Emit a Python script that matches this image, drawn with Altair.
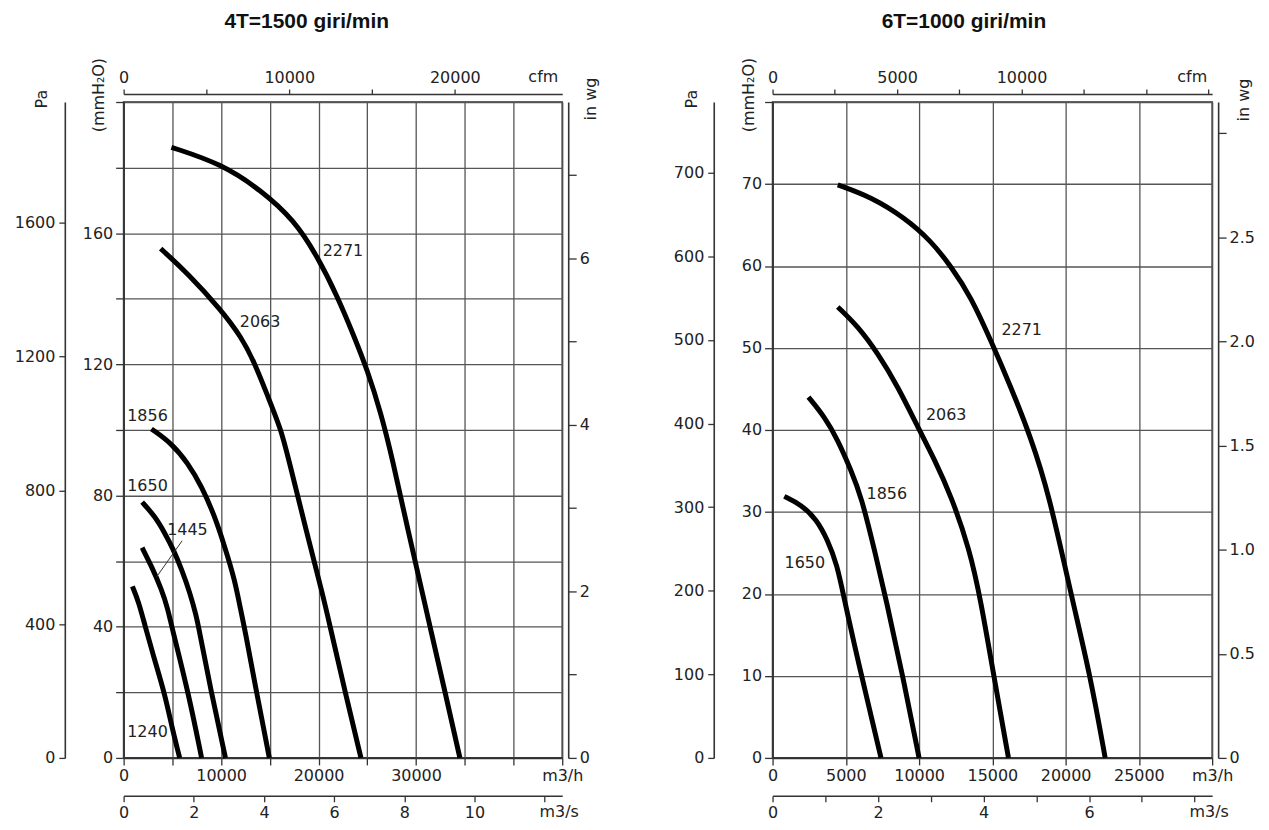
import altair as alt
import pandas as pd

# ---------------- data (flow m3/h, static pressure mmH2O) ----------------
# Left panel: 4T = 1500 giri/min
L_CURVES = ["2271", "2063", "1856", "1650", "1445", "1240"]
L_2271_Q = [4900, 10000, 14100, 17500, 19900, 21950, 23650, 25000, 26400, 27600, 29150, 30800, 31450, 33000, 34500]
L_2271_P = [186.2, 181.2, 173.1, 164.0, 152.8, 140.6, 128.5, 118.3, 105.2, 90.9, 69.7, 48.4, 39.8, 19.8, 0]
L_2063_Q = [3800, 6600, 10000, 12050, 13450, 14800, 16150, 16850, 18700, 20550, 21200, 22750, 24350]
L_2063_P = [155.3, 147.7, 136.6, 128.5, 120.4, 110.2, 100.1, 92.0, 69.7, 48.4, 39.8, 19.8, 0]
L_1856_Q = [2850, 4900, 6600, 8000, 9350, 10350, 11400, 12050, 12400, 13650, 14950]
L_1856_P = [100.3, 96.0, 89.9, 82.8, 73.7, 64.6, 54.4, 44.4, 39.8, 19.8, 0]
L_1650_Q = [1900, 3200, 4200, 5100, 5950, 6800, 7450, 7700, 9000, 10450]
L_1650_P = [78.0, 73.7, 68.7, 63.6, 57.5, 50.4, 43.3, 39.8, 19.8, 0]
L_1445_Q = [1900, 2850, 3900, 4550, 4950, 6650, 8000]
L_1445_P = [64.1, 58.5, 51.4, 45.3, 39.8, 19.8, 0]
L_1240_Q = [900, 1550, 2150, 3150, 4200, 5000, 5750]
L_1240_P = [52.3, 47.5, 40.8, 30.1, 19.8, 8.8, 0]
L_LABEL_TEXT = ["2271", "2063", "1856", "1650", "1445", "1240"]
L_LABEL_Q = [22500, 14000, 2450, 2450, 6550, 2450]
L_LABEL_P = [154.5, 133.0, 104.3, 83.0, 69.4, 7.9]
L_LEADER_Q = [6000, 3380]
L_LEADER_P = [66.2, 55.2]

# Right panel: 6T = 1000 giri/min
R_CURVES = ["2271", "2063", "1856", "1650"]
R_2271_Q = [4450, 6750, 9000, 10800, 12200, 13550, 14900, 16250, 17600, 18850, 20450, 21700, 22700]
R_2271_P = [69.9, 68.4, 65.9, 63.1, 59.9, 56.2, 50.9, 45.3, 39.2, 32.3, 19.3, 9.9, 0]
R_2063_Q = [4450, 5850, 7200, 8550, 9900, 11050, 12200, 13450, 14200, 15100, 16100]
R_2063_P = [55.0, 52.6, 49.3, 45.3, 40.4, 36.4, 31.9, 25.4, 19.3, 10.0, 0]
R_1856_Q = [2450, 3550, 4450, 5350, 6050, 6950, 7750, 8900, 10000]
R_1856_P = [44.0, 41.6, 38.8, 35.1, 31.9, 25.4, 19.3, 9.9, 0]
R_1650_Q = [800, 1950, 3000, 3750, 4400, 4900, 5650, 6080, 6780, 7400]
R_1650_P = [31.9, 30.9, 29.1, 26.6, 23.6, 19.3, 13.3, 10.0, 4.7, 0]
R_LABEL_TEXT = ["2271", "2063", "1856", "1650"]
R_LABEL_Q = [17000, 11850, 7800, 2200]
R_LABEL_P = [52.2, 41.8, 32.2, 23.8]

# unit captions (text, angle) and their anchor in each panel's flow/pressure units
UNIT_TEXT = ["(mmH₂O)", "Pa", "in wg", "cfm", "m3/s"]
UNIT_ANGLE = [270, 270, 270, 0, 0]
L_UNIT_Q = [-2500, -8390, 47970, 43060, 44690]
L_UNIT_P = [202.1, 200.9, 200.9, 207.6, -16.4]
R_UNIT_Q = [-1600, -5480, 32180, 28640, 29800]
R_UNIT_P = [80.85, 80.36, 80.24, 83.04, -6.57]

# axis tick values
L_Q_TICKS = list(range(0, 45001, 5000))
L_MM_TICKS = list(range(0, 201, 20))
L_PA_TICKS = list(range(0, 1601, 400))
L_INWG_TICKS = list(range(0, 8))
L_CFM_TICKS = list(range(0, 20001, 5000))
L_M3S_TICKS = list(range(0, 13, 2))

R_Q_TICKS = list(range(0, 30001, 5000))
R_MM_TICKS = list(range(0, 81, 10))
R_PA_TICKS = list(range(0, 701, 100))
R_INWG_TICKS = [0, 0.5, 1.0, 1.5, 2.0, 2.5, 3.0]
R_CFM_TICKS = list(range(0, 17501, 2500))
R_M3S_TICKS = list(range(0, 9))

PA_PER_MM = 9.80665
MM_PER_INWG = 25.4
M3H_PER_CFM = 1.69901
M3H_PER_M3S = 3600.0

W_L, W_R, H = 440, 441, 658
FONT = "DejaVu Sans"
INK = "#222"


def ticks_df(vals):
    return pd.DataFrame({"v": vals, "z": [0] * len(vals)})


def panel(title, names, qs, ps, lab_t, lab_q, lab_p, leader, unit_q, unit_p, qmax, pmax,
          q_ticks, mm_ticks, pa_ticks, inwg_ticks, cfm_ticks, m3s_ticks,
          q_label_expr, mm_label_expr, inwg_label_expr,
          cfm_label_expr, m3s_label_expr, width):
    rows = []
    for n, q, p in zip(names, qs, ps):
        for a, b in zip(q, p):
            rows.append({"curve": n, "q": a, "p": b})
    df = pd.DataFrame(rows)
    lab = pd.DataFrame({"t": lab_t, "q": lab_q, "p": lab_p})

    def xs():
        return alt.Scale(domain=[0, qmax], nice=False, zero=False)

    def ys():
        return alt.Scale(domain=[0, pmax], nice=False, zero=False)

    xax = alt.Axis(orient="bottom", values=q_ticks, format="d", labelExpr=q_label_expr,
                   title=None, grid=True, gridColor="#555", gridWidth=1.3, gridOpacity=1,
                   tickSize=7, labelPadding=3, domainWidth=1.6)
    yax = alt.Axis(orient="left", values=mm_ticks, format="d", labelExpr=mm_label_expr,
                   title=None,
                   grid=True, gridColor="#555", gridWidth=1.3, gridOpacity=1,
                   tickSize=8, labelPadding=3, domainWidth=1.6)

    lines = alt.Chart(df).mark_line(color="black", strokeWidth=5, interpolate="basis",
                                    strokeCap="butt").encode(
        x=alt.X("q:Q", scale=xs(), axis=xax),
        y=alt.Y("p:Q", scale=ys(), axis=yax),
        detail="curve:N",
    )
    texts = alt.Chart(lab).mark_text(font=FONT, fontSize=16, color=INK).encode(
        x=alt.X("q:Q", scale=xs(), axis=None),
        y=alt.Y("p:Q", scale=ys(), axis=None),
        text="t:N",
    )
    layers = [lines, texts]
    for txt, ang, uq, up in zip(UNIT_TEXT, UNIT_ANGLE, unit_q, unit_p):
        u = alt.Chart(pd.DataFrame({"t": [txt], "q": [uq], "p": [up]})).mark_text(
            font=FONT, fontSize=16, color=INK, angle=ang, align="center", baseline="middle"
        ).encode(
            x=alt.X("q:Q", scale=xs(), axis=None),
            y=alt.Y("p:Q", scale=ys(), axis=None),
            text="t:N",
        )
        layers.append(u)
    if leader is not None:
        ld = pd.DataFrame({"q": [leader[0][0]], "q2": [leader[0][1]],
                           "p": [leader[1][0]], "p2": [leader[1][1]]})
        lead = alt.Chart(ld).mark_rule(color="#333", strokeWidth=1).encode(
            x=alt.X("q:Q", scale=xs(), axis=None), x2="q2:Q",
            y=alt.Y("p:Q", scale=ys(), axis=None), y2="p2:Q",
        )
        layers.append(lead)

    pa = alt.Chart(ticks_df(pa_ticks)).mark_point(opacity=0).encode(
        x=alt.X("z:Q", scale=xs(), axis=None),
        y=alt.Y("v:Q", scale=alt.Scale(domain=[0, pmax * PA_PER_MM], nice=False, zero=False),
                axis=alt.Axis(orient="left", offset=59, values=pa_ticks, format="d",
                              title=None, tickSize=6, labelPadding=4, domainWidth=1.6))
    )
    inwg = alt.Chart(ticks_df(inwg_ticks)).mark_point(opacity=0).encode(
        x=alt.X("z:Q", scale=xs(), axis=None),
        y=alt.Y("v:Q", scale=alt.Scale(domain=[0, pmax / MM_PER_INWG], nice=False, zero=False),
                axis=alt.Axis(orient="right", offset=6, values=inwg_ticks,
                              labelExpr=inwg_label_expr, title=None,
                              tickSize=8, labelPadding=3, domainWidth=1.6))
    )
    cfm = alt.Chart(ticks_df(cfm_ticks)).mark_point(opacity=0).encode(
        x=alt.X("v:Q", scale=alt.Scale(domain=[0, qmax / M3H_PER_CFM], nice=False, zero=False),
                axis=alt.Axis(orient="top", offset=8, values=cfm_ticks, format="d",
                              labelExpr=cfm_label_expr, title=None,
                              tickSize=5, labelPadding=4, domainWidth=1.6)),
        y=alt.Y("z:Q", scale=ys(), axis=None),
    )
    m3s = alt.Chart(ticks_df(m3s_ticks)).mark_point(opacity=0).encode(
        x=alt.X("v:Q", scale=alt.Scale(domain=[0, qmax / M3H_PER_M3S], nice=False, zero=False),
                axis=alt.Axis(orient="bottom", offset=38, values=m3s_ticks, format="d",
                              labelExpr=m3s_label_expr, title=None,
                              tickSize=6, labelPadding=3, domainWidth=1.6)),
        y=alt.Y("z:Q", scale=ys(), axis=None),
    )
    layers += [pa, inwg, cfm, m3s]
    return alt.layer(*layers).resolve_scale(
        x="independent", y="independent"
    ).properties(width=width, height=H,
                 title=alt.TitleParams(title, anchor="middle", frame="bounds", offset=26))


left = panel(
    "4T=1500 giri/min", L_CURVES,
    [L_2271_Q, L_2063_Q, L_1856_Q, L_1650_Q, L_1445_Q, L_1240_Q],
    [L_2271_P, L_2063_P, L_1856_P, L_1650_P, L_1445_P, L_1240_P],
    L_LABEL_TEXT, L_LABEL_Q, L_LABEL_P, (L_LEADER_Q, L_LEADER_P),
    L_UNIT_Q, L_UNIT_P, 45000, 200,
    L_Q_TICKS, L_MM_TICKS, L_PA_TICKS, L_INWG_TICKS, L_CFM_TICKS, L_M3S_TICKS,
    "datum.value == 45000 ? 'm3/h' : (datum.value % 10000 == 0 && datum.value <= 30000 ? datum.label : '')",
    "datum.value % 40 == 0 && datum.value <= 160 ? datum.label : ''",
    "datum.value % 2 == 0 ? format(datum.value, 'd') : ''",
    "datum.value % 10000 == 0 ? datum.label : ''",
    "datum.value <= 10 ? datum.label : ''",
    W_L,
)

right = panel(
    "6T=1000 giri/min", R_CURVES,
    [R_2271_Q, R_2063_Q, R_1856_Q, R_1650_Q],
    [R_2271_P, R_2063_P, R_1856_P, R_1650_P],
    R_LABEL_TEXT, R_LABEL_Q, R_LABEL_P, None,
    R_UNIT_Q, R_UNIT_P, 30000, 80,
    R_Q_TICKS, R_MM_TICKS, R_PA_TICKS, R_INWG_TICKS, R_CFM_TICKS, R_M3S_TICKS,
    "datum.value == 30000 ? 'm3/h' : datum.label",
    "datum.value <= 70 ? datum.label : ''",
    "datum.value == 0 ? '0' : (datum.value >= 3 ? '' : format(datum.value, '.1f'))",
    "datum.value % 5000 == 0 && datum.value <= 10000 ? datum.label : ''",
    "datum.value % 2 == 0 && datum.value <= 6 ? datum.label : ''",
    W_R,
)

chart = alt.hconcat(left, right, spacing=72).properties(
    padding={"left": 5, "right": 5, "top": 0, "bottom": 5}
).configure_view(
    stroke="#333", strokeWidth=1.6
).configure_axis(
    labelFont=FONT, labelFontSize=16, labelColor=INK,
    domainColor="#333", tickColor="#333", tickWidth=1.3,
    labelFlush=False, labelOverlap=False,
).configure_title(
    font="Liberation Sans", fontSize=21, fontWeight="bold", color="#111"
)

chart.save("out.html", embed_options={"renderer": "svg", "actions": False})
